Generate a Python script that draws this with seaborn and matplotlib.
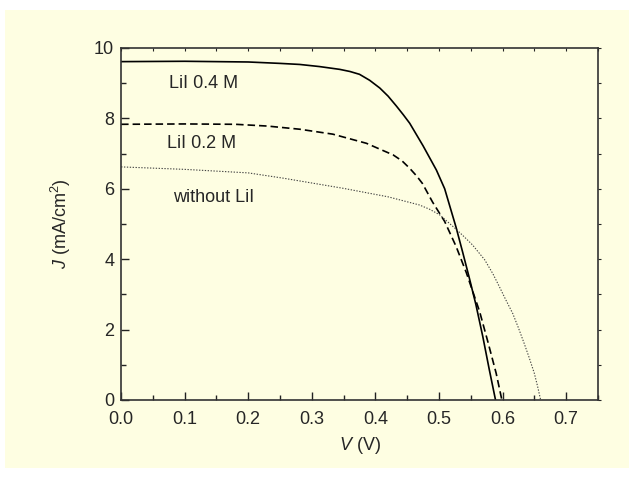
### IMPORTS
import matplotlib
matplotlib.use("Agg")
import matplotlib.pyplot as plt
from matplotlib.patches import Rectangle
from matplotlib.ticker import MultipleLocator, FormatStrFormatter
import pandas as pd
import seaborn as sns

### DATA
v_04 = [0.0, 0.10, 0.20, 0.25, 0.281, 0.312, 0.344, 0.360, 0.375, 0.391, 0.407, 0.420,
        0.433, 0.444, 0.454, 0.475, 0.496, 0.509, 0.527, 0.537, 0.548, 0.558, 0.569,
        0.579, 0.589]
j_04 = [9.61, 9.62, 9.60, 9.56, 9.53, 9.47, 9.39, 9.33, 9.25, 9.08, 8.86, 8.63,
        8.35, 8.10, 7.86, 7.22, 6.53, 6.00, 4.90, 4.22, 3.45, 2.72, 1.80,
        0.88, 0.0]

v_02 = [0.0, 0.10, 0.18, 0.23, 0.281, 0.333, 0.386, 0.405, 0.428, 0.442, 0.454, 0.465,
        0.474, 0.490, 0.509, 0.527, 0.543, 0.564, 0.577, 0.590, 0.599]
j_02 = [7.83, 7.84, 7.83, 7.78, 7.69, 7.55, 7.29, 7.14, 6.96, 6.79, 6.58, 6.36,
        6.15, 5.62, 5.07, 4.36, 3.62, 2.51, 1.65, 0.76, 0.0]

v_00 = [0.0, 0.10, 0.20, 0.255, 0.35, 0.42, 0.469, 0.485, 0.501, 0.527, 0.540, 0.553,
        0.572, 0.585, 0.595, 0.605, 0.616, 0.625, 0.634, 0.642, 0.650, 0.655, 0.660]
j_00 = [6.62, 6.55, 6.45, 6.30, 6.01, 5.77, 5.54, 5.42, 5.26, 4.85, 4.63, 4.40,
        3.98, 3.58, 3.22, 2.85, 2.46, 2.05, 1.61, 1.20, 0.76, 0.40, 0.0]

labels = ["LiI 0.4 M", "LiI 0.2 M", "without LiI"]
label_pos = [(0.076, 8.98), (0.073, 7.29), (0.082, 5.74)]

cream = "#FEFEE2"

### STYLE
sns.set_style("ticks")
plt.rcParams["font.family"] = ["Liberation Sans", "DejaVu Sans"]
plt.rcParams["mathtext.fontset"] = "custom"
plt.rcParams["mathtext.it"] = "Liberation Sans:italic"
plt.rcParams["mathtext.rm"] = "Liberation Sans"

fig = plt.figure(figsize=(6.34, 4.79), dpi=100, facecolor="white")
fig.patches.append(Rectangle((0.008, 0.023), 0.984, 0.956, transform=fig.transFigure,
                             facecolor=cream, edgecolor="none", zorder=-10))
ax = fig.add_axes([0.191, 0.165, 0.752, 0.735])
ax.set_facecolor(cream)

### CURVES
df04 = pd.DataFrame({"V": v_04, "J": j_04})
df02 = pd.DataFrame({"V": v_02, "J": j_02})
df00 = pd.DataFrame({"V": v_00, "J": j_00})

sns.lineplot(data=df04, x="V", y="J", ax=ax, color="black", lw=1.2, sort=False)
sns.lineplot(data=df02, x="V", y="J", ax=ax, color="black", lw=1.2, sort=False,
             linestyle=(0, (4.5, 2.4)))
sns.lineplot(data=df00, x="V", y="J", ax=ax, color="#444444", lw=0.8, sort=False,
             linestyle=(0, (1.2, 1.4)))

for lab, (x, y) in zip(labels, label_pos):
    ax.text(x, y, lab, fontsize=13, va="center", ha="left")

### AXES
ax.set_xlim(0, 0.75)
ax.set_ylim(0, 10)
ax.xaxis.set_major_locator(MultipleLocator(0.1))
ax.xaxis.set_minor_locator(MultipleLocator(0.05))
ax.yaxis.set_major_locator(MultipleLocator(2))
ax.yaxis.set_minor_locator(MultipleLocator(1))
ax.xaxis.set_major_formatter(FormatStrFormatter("%.1f"))
ax.tick_params(axis="both", which="major", direction="in", length=6, width=1,
               labelsize=13, color="#222222")
ax.tick_params(axis="both", which="minor", direction="in", length=3.5, width=1, color="#222222")
ax.tick_params(axis="x", pad=8)
ax.tick_params(axis="y", pad=5)

# small ticks on the top and right frame
sec_x = ax.secondary_xaxis("top")
sec_x.xaxis.set_major_locator(MultipleLocator(0.05))
sec_x.tick_params(direction="in", length=2, width=0.8, labeltop=False)
sec_y = ax.secondary_yaxis("right")
sec_y.yaxis.set_major_locator(MultipleLocator(1))
sec_y.tick_params(direction="out", length=2, width=0.8, labelright=False)
for s in list(sec_x.spines.values()) + list(sec_y.spines.values()):
    s.set_visible(False)

for s in ax.spines.values():
    s.set_visible(True)
    s.set_color("#333333")
    s.set_linewidth(1.2)

ax.set_xlabel("$V$ (V)", fontsize=13, labelpad=5)
ax.set_ylabel("$J$ (mA/cm$^2$)", fontsize=13, labelpad=15)

fig.savefig("out.png", dpi=100, facecolor="white")
